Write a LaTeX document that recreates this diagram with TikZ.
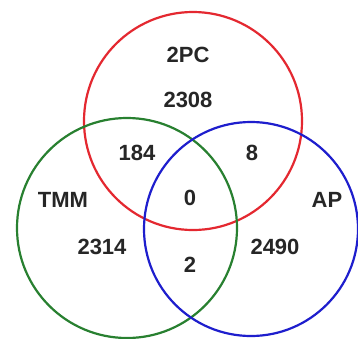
\documentclass[tikz,border=0pt]{standalone}
\usepackage{fontspec}
\setmainfont{Liberation Sans}
\begin{document}
\begin{tikzpicture}[x=1pt,y=-1pt,
  setcircle/.style={line width=2.2pt},
  lbl/.style={font=\fontsize{22}{24}\selectfont\bfseries, text=black!85, inner sep=0pt}]
\definecolor{vred}{RGB}{228,40,48}
\definecolor{vgreen}{RGB}{40,128,48}
\definecolor{vblue}{RGB}{30,30,205}
\useasboundingbox[fill=white] (0,0) rectangle (358,338);
\draw[setcircle, vred] (193,121) circle[radius=109];
\draw[setcircle, vgreen] (127,228) circle[radius=110];
\draw[setcircle, vblue] (251,229) circle[radius=107];
\node[lbl] (pc) at (188,55) {2PC};
\node[lbl] (n2308) at (188,100) {2308};
\node[lbl] (n184) at (137,153) {184};
\node[lbl] (n8) at (252,153) {8};
\node[lbl] (tmm) at (63,200) {TMM};
\node[lbl] (n0) at (190,198) {0};
\node[lbl] (ap) at (327,200) {AP};
\node[lbl] (n2314) at (102,247) {2314};
\node[lbl] (n2490) at (275,247) {2490};
\node[lbl] (n2) at (190,265) {2};
\end{tikzpicture}
\end{document}
